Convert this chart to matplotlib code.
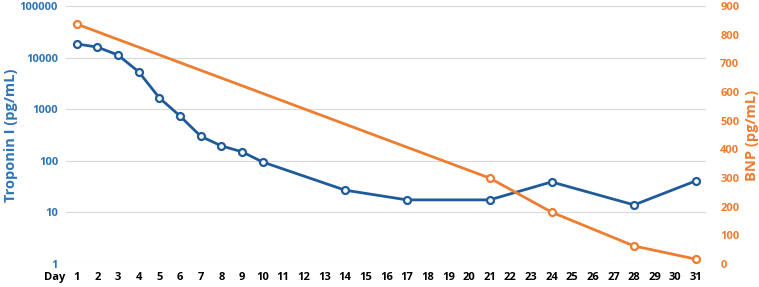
import numpy as np
import matplotlib
matplotlib.use("Agg")
import matplotlib.pyplot as plt
from matplotlib.ticker import FixedLocator, NullLocator

plt.rcParams["font.family"] = ["Open Sans", "DejaVu Sans"]
plt.rcParams["font.weight"] = "bold"

DAYS = list(range(1, 32))
TROP_DAYS = [1, 2, 3, 4, 5, 6, 7, 8, 9, 10, 14, 17, 21, 24, 28, 31]
TROP_VALS = [18400, 16000, 11200, 5300, 1660, 740, 300, 195, 150, 95, 27, 17.5, 17.5, 39, 14, 41]
BNP_DAYS = [1, 21, 24, 28, 31]
BNP_VALS = [837, 300, 181, 63, 17]

BLUE_LINE = "#1f5b98"
BLUE_TXT = "#2e75b6"
ORANGE = "#ed7d31"

fig = plt.figure(figsize=(7.59, 2.87), dpi=100)
ax = fig.add_axes([0.0876, 0.080, 0.843, 0.899])
ax2 = ax.twinx()

pos = lambda ds: [d - 1 for d in ds]

ax.plot(pos(TROP_DAYS), TROP_VALS, color=BLUE_LINE, lw=2, marker="o", ms=5,
        mfc="white", mec=BLUE_LINE, mew=1.6, zorder=3)
ax2.plot(pos(BNP_DAYS), BNP_VALS, color=ORANGE, lw=2, marker="o", ms=5,
         mfc="white", mec=ORANGE, mew=1.6, zorder=3)

ax.set_yscale("log")
ax.set_ylim(1, 100000)
ax.yaxis.set_major_locator(FixedLocator([1, 10, 100, 1000, 10000, 100000]))
ax.yaxis.set_minor_locator(NullLocator())
ax.set_yticklabels(["1", "10", "100", "1000", "10000", "100000"])
ax.grid(axis="y", color="#d9d9d9", lw=0.8)
ax.set_xlim(-0.5, 30.5)
ax.set_xticks(range(len(DAYS)))
ax.set_xticklabels([str(d) for d in DAYS])

ax2.set_ylim(0, 900)
ax2.set_yticks(range(0, 901, 100))

for a in (ax, ax2):
    for s in a.spines.values():
        s.set_visible(False)
    a.tick_params(length=0, labelsize=8)
ax.tick_params(axis="y", colors=BLUE_TXT, pad=6)
ax.tick_params(axis="x", colors="black", pad=6)
ax2.tick_params(axis="y", colors=ORANGE, pad=10)
for lab in ax.get_yticklabels() + ax.get_xticklabels() + ax2.get_yticklabels():
    lab.set_fontweight("bold")

ax.set_ylabel("Troponin I (pg/mL)", color=BLUE_TXT, fontsize=10.5, fontweight="bold", labelpad=1)
ax2.set_ylabel("BNP (pg/mL)", color=ORANGE, fontsize=10.5, fontweight="bold", labelpad=4)

ax.annotate("Day", xy=(-1.05, 0), xycoords=ax.get_xaxis_transform(),
            xytext=(0, -6), textcoords="offset points", ha="center", va="top",
            fontsize=8, fontweight="bold", annotation_clip=False)

fig.savefig("out.png", dpi=100)
